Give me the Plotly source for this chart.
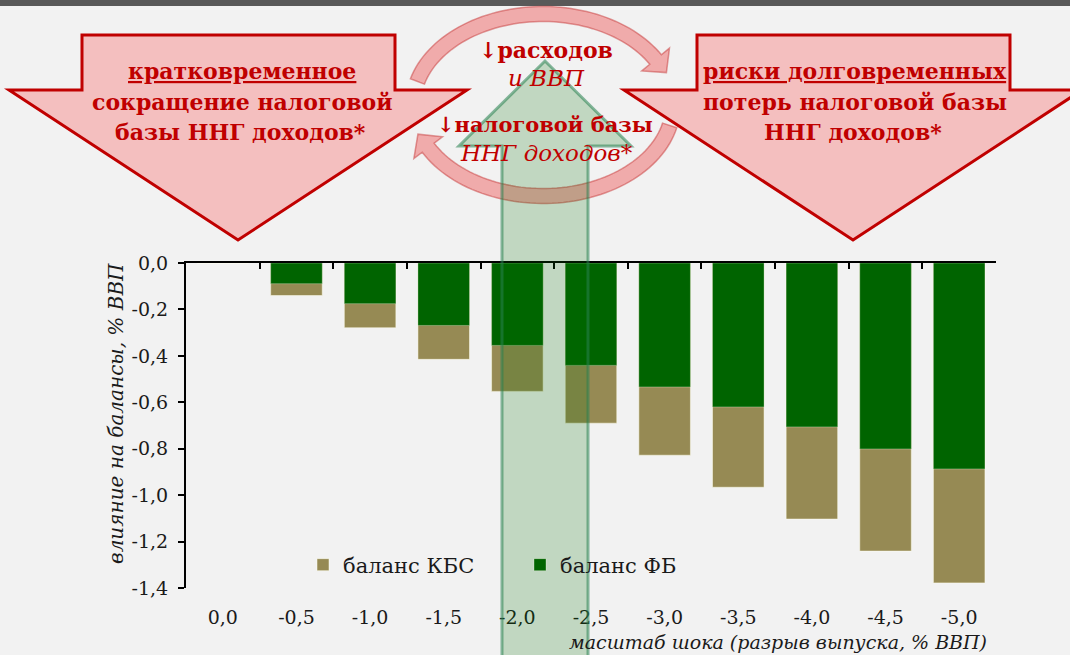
import numpy as np
import plotly.graph_objects as go

# ---------------- data ----------------
categories = ["0,0", "-0,5", "-1,0", "-1,5", "-2,0", "-2,5", "-3,0", "-3,5", "-4,0", "-4,5", "-5,0"]
kbs_balance = [0.0, -0.140, -0.279, -0.415, -0.553, -0.690, -0.828, -0.966, -1.103, -1.241, -1.378]
fb_balance = [0.0, -0.089, -0.175, -0.269, -0.355, -0.441, -0.534, -0.620, -0.706, -0.801, -0.887]
y_tick_vals = [0.0, -0.2, -0.4, -0.6, -0.8, -1.0, -1.2, -1.4]
y_tick_text = ["0,0", "-0,2", "-0,4", "-0,6", "-0,8", "-1,0", "-1,2", "-1,4"]

FONT = "'DejaVu Serif', 'Liberation Serif', serif"
RED = "#c00000"

# ---------------- geometry helpers (decoration only) ----------------
FW, FH = 1070, 655
ML, MR, MT, MB = 186, 74, 263, 67
PW, PH = FW - ML - MR, FH - MT - MB


def px(x):
    return (x - ML) / PW


def py(y):
    return (FH - MB - y) / PH


def path(points, close=True):
    s = "M " + " L ".join(f"{px(x):.5f},{py(y):.5f}" for x, y in points)
    return s + (" Z" if close else "")


def arc_band(t0, t1, cx=543, cy=105, rx=130, ry=91, half=7.5, head_half=18, head_len=17, n=60):
    ts = np.radians(np.linspace(t0, t1, n))
    sgn = np.sign(t1 - t0)
    xs = cx + rx * np.cos(ts)
    ys = cy - ry * np.sin(ts)
    tx = -rx * np.sin(ts) * sgn
    ty = -ry * np.cos(ts) * sgn
    nrm = np.hypot(tx, ty)
    tx, ty = tx / nrm, ty / nrm
    nx, ny = -ty, tx
    outer = [(xs[i] + half * nx[i], ys[i] + half * ny[i]) for i in range(n)]
    inner = [(xs[i] - half * nx[i], ys[i] - half * ny[i]) for i in range(n)]
    ex, ey = xs[-1], ys[-1]
    head = [
        (ex + head_half * nx[-1], ey + head_half * ny[-1]),
        (ex + head_len * tx[-1], ey + head_len * ty[-1]),
        (ex - head_half * nx[-1], ey - head_half * ny[-1]),
    ]
    return path(outer + head + inner[::-1])


# ---------------- traces ----------------
fig = go.Figure()
fig.add_trace(go.Bar(
    x=categories, y=kbs_balance, name="баланс КБС", width=0.7,
    marker=dict(color="#968a54", line=dict(color="rgba(255,255,240,0.5)", width=1)),
    xaxis="x", yaxis="y",
))
fig.add_trace(go.Bar(
    x=categories, y=fb_balance, name="баланс ФБ", width=0.7,
    marker=dict(color="#006400", line=dict(color="rgba(255,255,240,0.3)", width=1)),
    xaxis="x2", yaxis="y",
))

shapes = []
# top dark strip
shapes.append(dict(type="rect", xref="paper", yref="paper", x0=px(0), x1=px(FW), y0=py(0), y1=py(6),
                   fillcolor="#595959", line=dict(width=0), layer="above"))
# big pink arrows
left_arrow = [(82, 35), (395, 35), (395, 90), (467, 90), (238, 240), (9, 90), (82, 90)]
right_arrow = [(x + 615, y) for x, y in left_arrow]
for pts in (left_arrow, right_arrow):
    shapes.append(dict(type="path", xref="paper", yref="paper", path=path(pts),
                       fillcolor="#f4bfbf", line=dict(color=RED, width=3), layer="above"))
# circular pink arrows
for t0, t1 in ((165, 30), (-13, -152)):
    shapes.append(dict(type="path", xref="paper", yref="paper", path=arc_band(t0, t1),
                       fillcolor="rgba(238,100,100,0.5)", line=dict(color="rgba(200,60,60,0.5)", width=1.5),
                       layer="above"))
# big green up arrow
green = [(502, 700), (502, 146), (459, 146), (545, 61), (631, 146), (588, 146), (588, 700)]
shapes.append(dict(type="path", xref="paper", yref="paper", path=path(green),
                   fillcolor="rgba(0,110,0,0.2)", line=dict(color="rgba(40,130,80,0.55)", width=3),
                   layer="above"))

annotations = []


def txt(text, x, y, size, **kw):
    annotations.append(dict(text=text, x=px(x), y=py(y), xref="paper", yref="paper",
                            showarrow=False, xanchor=kw.pop("xanchor", "center"), yanchor="middle",
                            font=dict(family=FONT, size=size, color=kw.pop("color", RED)), **kw))


txt("<b><u>кратковременное</u></b>", 242, 71, 22)
txt("<b>сокращение налоговой</b>", 242, 102, 22)
txt("<b>базы ННГ доходов*</b>", 240, 132, 22)
txt("<b><u>риски долговременных</u></b>", 855, 71, 22)
txt("<b>потерь налоговой базы</b>", 855, 102, 22)
txt("<b>ННГ доходов*</b>", 853, 132, 22)
txt("<b>↓расходов</b>", 546, 50, 22)
txt("<i>и ВВП</i>", 546, 78, 23)
txt("<b>↓налоговой базы</b>", 545, 124, 21)
txt("<i>ННГ доходов*</i>", 546, 153, 23)
# axis titles
txt("<i>влияние на балансы, % ВВП</i>", 116, 414, 20, color="#1a1a1a", textangle=-90)
txt("<i>масштаб шока (разрыв выпуска, % ВВП)</i>", 989, 642, 19, color="#1a1a1a", xanchor="right")

fig.update_layout(
    width=FW, height=FH,
    margin=dict(l=ML, r=MR, t=MT, b=MB, pad=0),
    paper_bgcolor="#f2f2f2", plot_bgcolor="#f2f2f2",
    barmode="overlay",
    font=dict(family=FONT, size=19, color="#1a1a1a"),
    showlegend=True,
    legend=dict(orientation="h", x=px(303), y=py(565), xanchor="left", yanchor="middle",
                bgcolor="rgba(0,0,0,0)", font=dict(family=FONT, size=21, color="#1a1a1a"),
                entrywidth=172, itemwidth=30, traceorder="normal"),
    xaxis=dict(type="category", categoryorder="array", categoryarray=categories,
               showline=False, ticks="", showgrid=False, zeroline=False,
               ticklabelstandoff=16, tickfont=dict(family=FONT, size=19, color="#1a1a1a"),
               range=[-0.5, 10.5], fixedrange=True),
    xaxis2=dict(type="category", categoryorder="array", categoryarray=categories,
                overlaying="x", side="top", anchor="y", showline=True, linecolor="#000000",
                linewidth=2, ticks="inside", ticklen=6, tickwidth=2, tickcolor="#000000",
                tickson="boundaries", showticklabels=False, showgrid=False, zeroline=False,
                range=[-0.5, 10.5], fixedrange=True),
    yaxis=dict(range=[-1.4, 0], tickvals=y_tick_vals, ticktext=y_tick_text,
               showline=True, linecolor="#000000", linewidth=2, ticks="outside",
               ticklen=6, tickwidth=2, tickcolor="#000000", showgrid=False, zeroline=False,
               ticklabelstandoff=6, tickfont=dict(family=FONT, size=19, color="#1a1a1a"),
               fixedrange=True),
    shapes=shapes,
    annotations=annotations,
)

fig.write_html("out.html", post_script="document.body.style.margin='0';",
               config={"displayModeBar": False})
